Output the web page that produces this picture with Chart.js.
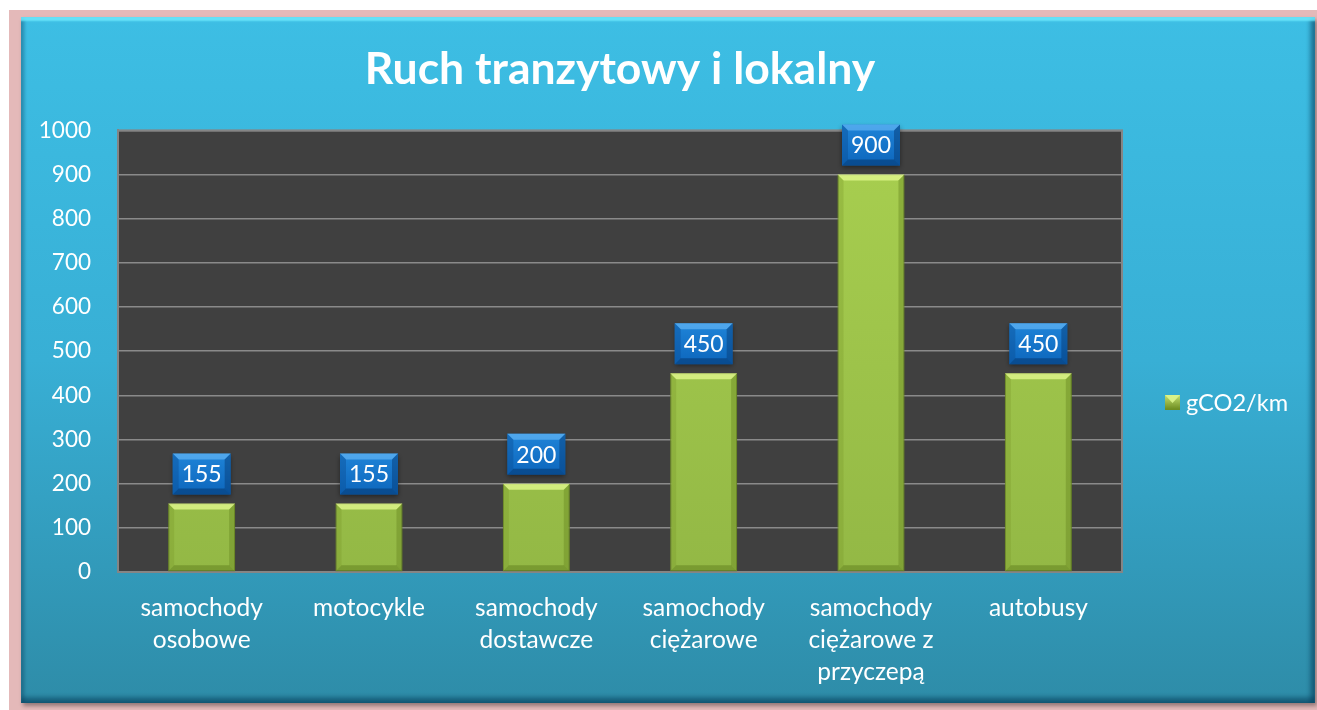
<!DOCTYPE html>
<html>
<head>
<meta charset="utf-8">
<script src="https://cdn.jsdelivr.net/npm/chart.js@4/dist/chart.umd.min.js"></script>
<style>
  html, body { margin: 0; padding: 0; background: #fff; width: 1317px; height: 710px; overflow: hidden; }
  #frame { position: absolute; left: 9px; top: 10px; width: 1308px; height: 700px; background: #e4b9b9; }
  #panel {
    position: absolute; left: 21px; top: 17px; width: 1294px; height: 686px;
    background: linear-gradient(to bottom, #3dbee4 0%, #38afd5 50%, #2e8ca8 100%);
    box-shadow: inset 0 5px 2px -1px rgba(110,235,255,0.85), inset -5px 0 4px rgba(0,50,80,0.45),
                inset 0 -6px 4px rgba(0,50,80,0.45), inset 4px 0 3px rgba(0,50,80,0.2), 2px 3px 4px rgba(0,0,0,0.35);
  }
  canvas { position: absolute; left: 0; top: 0; }
</style>
</head>
<body>
<div id="frame"></div>
<div id="panel"><canvas id="chart" width="1294" height="686"></canvas></div>
<script>
const title = 'Ruch tranzytowy i lokalny';
const categories = [
  ['samochody', 'osobowe'],
  'motocykle',
  ['samochody', 'dostawcze'],
  ['samochody', 'ciężarowe'],
  ['samochody', 'ciężarowe z', 'przyczepą'],
  'autobusy'
];
const seriesName = 'gCO2/km';
const values = [155, 155, 200, 450, 900, 450];
const yTicks = { min: 0, max: 1000, step: 100 };

const FONT = 'Lato, "Open Sans", sans-serif';

// dark plot background + border (border under the bars and boxes)
const plotBg = {
  id: 'plotBg',
  beforeDraw(chart) {
    const { ctx, chartArea: a } = chart;
    ctx.save();
    ctx.fillStyle = '#404040';
    ctx.fillRect(a.left, a.top, a.right - a.left, a.bottom - a.top);
    ctx.restore();
  },
  beforeDatasetsDraw(chart) {
    const { ctx, chartArea: a } = chart;
    ctx.save();
    ctx.strokeStyle = '#858585';
    ctx.lineWidth = 2;
    ctx.strokeRect(a.left, a.top, a.right - a.left, a.bottom - a.top);
    ctx.restore();
  }
};

// bevel on bars + blue value boxes
const bevels = {
  id: 'bevels',
  afterDatasetsDraw(chart) {
    const { ctx } = chart;
    const meta = chart.getDatasetMeta(0);
    ctx.save();
    meta.data.forEach((bar, i) => {
      const l = bar.x - bar.width / 2, r = bar.x + bar.width / 2, t = bar.y, b = bar.base;
      const e = 6;
      const poly = (pts, fill) => {
        ctx.beginPath();
        ctx.moveTo(pts[0][0], pts[0][1]);
        pts.slice(1).forEach(p => ctx.lineTo(p[0], p[1]));
        ctx.closePath();
        ctx.fillStyle = fill;
        ctx.fill();
      };
      poly([[l, t], [r, t], [r - e, t + e], [l + e, t + e]], 'rgba(225,248,140,0.8)');
      poly([[l, t], [l + e, t + e], [l + e, b - e], [l, b]], 'rgba(120,150,40,0.3)');
      poly([[r, t], [r - e, t + e], [r - e, b - e], [r, b]], 'rgba(100,130,30,0.4)');
      poly([[l, b], [l + e, b - e], [r - e, b - e], [r, b]], 'rgba(90,120,25,0.45)');

      // value box
      const w = 58, h = 41, bx = bar.x - w / 2, by = t - 9 - h, be = 6;
      ctx.shadowColor = 'rgba(0,0,0,0.45)';
      ctx.shadowBlur = 5;
      ctx.shadowOffsetY = 2;
      const g = ctx.createLinearGradient(0, by, 0, by + h);
      g.addColorStop(0, '#1f84d8');
      g.addColorStop(1, '#0d66bc');
      ctx.fillStyle = g;
      ctx.fillRect(bx, by, w, h);
      ctx.shadowColor = 'transparent';
      poly([[bx, by], [bx + w, by], [bx + w - be, by + be], [bx + be, by + be]], 'rgba(110,190,250,0.6)');
      poly([[bx, by], [bx + be, by + be], [bx + be, by + h - be], [bx, by + h]], 'rgba(10,80,150,0.45)');
      poly([[bx + w, by], [bx + w - be, by + be], [bx + w - be, by + h - be], [bx + w, by + h]], 'rgba(5,60,120,0.5)');
      poly([[bx, by + h], [bx + be, by + h - be], [bx + w - be, by + h - be], [bx + w, by + h]], 'rgba(5,55,110,0.55)');
      ctx.fillStyle = '#ffffff';
      ctx.font = '23px ' + FONT;
      ctx.textAlign = 'center';
      ctx.textBaseline = 'middle';
      ctx.fillText(String(values[i]), bar.x, by + h / 2 + 1);
    });
    ctx.restore();
  }
};

// legend drawn to the right of the plot
const sideLegend = {
  id: 'sideLegend',
  afterDraw(chart) {
    const { ctx, chartArea: a } = chart;
    const ds = chart.data.datasets[0];
    const x = a.right + 43, y = 385;
    ctx.save();
    const g = ctx.createLinearGradient(0, y - 7, 0, y + 7);
    g.addColorStop(0, '#c4e070');
    g.addColorStop(1, '#6f8f22');
    ctx.fillStyle = g;
    ctx.fillRect(x, y - 7, 15, 15);
    ctx.fillStyle = 'rgba(220,245,140,0.9)';
    ctx.beginPath();
    ctx.moveTo(x, y - 7); ctx.lineTo(x + 15, y - 7); ctx.lineTo(x + 7.5, y + 1); ctx.closePath();
    ctx.fill();
    ctx.fillStyle = '#ffffff';
    ctx.font = '23.6px ' + FONT;
    ctx.textAlign = 'left';
    ctx.textBaseline = 'middle';
    ctx.fillText(ds.label, x + 21, y + 1);
    ctx.restore();
  }
};

const ctx = document.getElementById('chart').getContext('2d');
const barGrad = ctx.createLinearGradient(0, 100, 0, 560);
barGrad.addColorStop(0, '#a9d050');
barGrad.addColorStop(1, '#93b845');

new Chart(ctx, {
  type: 'bar',
  data: {
    labels: categories,
    datasets: [{
      label: seriesName,
      data: values,
      backgroundColor: barGrad,
      borderColor: '#6f8c28',
      borderWidth: 1,
      borderSkipped: false,
      categoryPercentage: 1,
      barPercentage: 0.4
    }]
  },
  options: {
    responsive: false,
    animation: false,
    devicePixelRatio: 1,
    layout: { padding: { left: 0, right: 193, top: 0, bottom: 0 } },
    plugins: {
      legend: { display: false },
      tooltip: { enabled: false },
      title: {
        display: true,
        text: title,
        fullSize: false,
        color: '#ffffff',
        font: { family: FONT, size: 44.5, weight: 'bold', lineHeight: 1.2 },
        padding: { top: 26, bottom: 34 }
      }
    },
    scales: {
      x: {
        afterFit: s => { s.height = 131; },
        grid: { display: false },
        border: { display: true, color: '#858585', width: 2 },
        ticks: {
          color: '#ffffff',
          font: { family: FONT, size: 24.5, lineHeight: 1.3 },
          padding: 12,
          autoSkip: false,
          maxRotation: 0
        }
      },
      y: {
        min: yTicks.min,
        max: yTicks.max,
        afterFit: s => { s.width = 97; },
        grid: { color: '#8a8a8a', lineWidth: 1.5, drawTicks: false },
        border: { display: true, color: '#858585', width: 2 },
        ticks: {
          stepSize: yTicks.step,
          color: '#ffffff',
          font: { family: FONT, size: 22.5 },
          padding: 27,
          callback: v => String(v)
        }
      }
    }
  },
  plugins: [plotBg, bevels, sideLegend]
});
</script>
</body>
</html>
